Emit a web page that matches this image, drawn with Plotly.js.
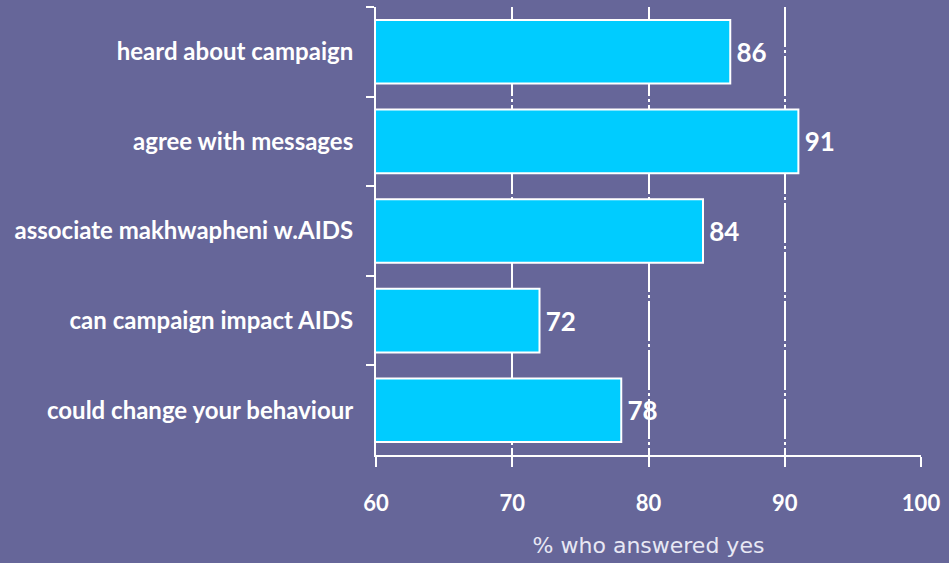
<!DOCTYPE html>
<html><head><meta charset="utf-8">
<script src="https://cdn.plot.ly/plotly-3.0.1.min.js"></script>
<style>html,body{margin:0;padding:0;background:#666699;}</style>
</head><body>
<div id="chart" style="width:949px;height:563px;"></div>
<script>
const categories = ["heard about campaign","agree with messages","associate makhwapheni w.AIDS","can campaign impact AIDS","could change your behaviour"];
const values = [86, 91, 84, 72, 78];
const xTicks = [60, 70, 80, 90, 100];

const trace = {
  type: 'bar', orientation: 'h',
  y: categories, x: values,
  base: 0,
  texttemplate: '\u2009%{x}', textposition: 'outside', cliponaxis: false,
  textfont: {family: 'Lato, sans-serif', size: 26, color: '#ffffff', weight: 'bold'},
  marker: {color: '#00CCFF', line: {color: '#ffffff', width: 2}},
  hoverinfo: 'none'
};
const layout = {
  width: 949, height: 563,
  paper_bgcolor: '#666699', plot_bgcolor: '#666699',
  margin: {l: 376, r: 28, t: 7, b: 108},
  bargap: 0.29,
  showlegend: false,
  xaxis: {
    range: [60, 100], tickvals: xTicks, ticktext: xTicks.map(String),
    showgrid: true, gridcolor: '#ffffff', gridwidth: 2, griddash: '40px,3px,3px,3px',
    showline: true, linecolor: '#ffffff', linewidth: 2,
    ticks: 'outside', ticklen: 10, tickwidth: 2, tickcolor: '#ffffff',
    tickfont: {family: 'Lato, sans-serif', size: 22, color: '#ffffff', weight: 'bold'},
    ticklabelstandoff: 18,
    zeroline: false,
    title: {text: '% who answered yes', font: {family: 'DejaVu Sans, Verdana, sans-serif', size: 22, color: '#e8e8f4'}, standoff: 22}
  },
  yaxis: {
    autorange: 'reversed', type: 'category',
    showline: true, linecolor: '#ffffff', linewidth: 2,
    ticks: 'outside', tickson: 'boundaries', ticklen: 8, tickwidth: 2, tickcolor: '#ffffff',
    tickfont: {family: 'Lato, sans-serif', size: 24, color: '#ffffff', weight: 'bold'},
    ticklabelstandoff: 16,
    showgrid: false, zeroline: false
  }
};
Plotly.newPlot('chart', [trace], layout, {displayModeBar: false, staticPlot: true});
</script>
</body></html>
